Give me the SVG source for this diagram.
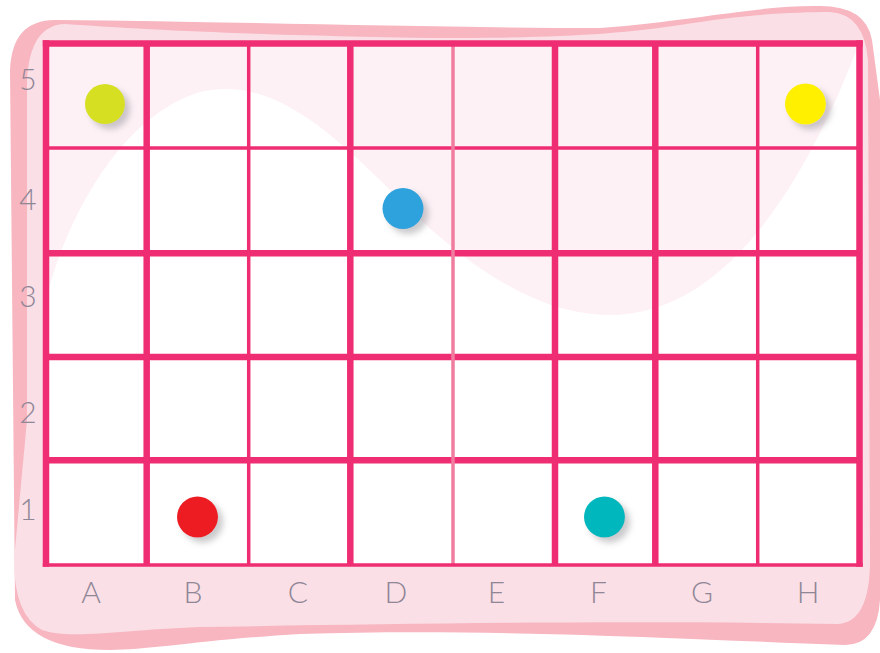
<svg xmlns="http://www.w3.org/2000/svg" width="880" height="653" viewBox="0 0 880 653">
  <style>
    .back { fill: #f7b6c0; }
    .front { fill: #fbdfe6; }
    .wave { fill: #fdf1f5; }
    .thick { stroke: #ef2d72; stroke-width: 6.5; fill: none; }
    .thin { stroke: #ef2d72; stroke-width: 3.5; fill: none; }
    .light { stroke: #f07c9f; stroke-width: 3.5; fill: none; }
    .lbl { font-family: "Lato", "Liberation Sans", Arial, sans-serif; font-weight: 300; font-size: 30px; fill: #8f8696; text-anchor: middle; }
  </style>
  <defs>
    <filter id="sh" x="-50%" y="-50%" width="200%" height="200%">
      <feDropShadow dx="5" dy="5" stdDeviation="3" flood-color="#8a8a90" flood-opacity="0.45"/>
    </filter>
  </defs>

  <!-- frame -->
  <g id="frame">
    <path class="back" d="M 10 70 Q 12 20 55 20 C 250 22 450 28 600 28 C 700 20 760 5 820 6 Q 866 6 872 40 L 880 100 L 880 600 Q 877 645 845 645 C 700 640 500 628 300 634 C 200 640 150 650 110 650 Q 25 650 15 600 Z"/>
    <path class="front" d="M 27 80 Q 30 25 65 24 C 150 30 250 35 440 38 C 560 38 620 34 680 25 C 740 15 790 12 830 12 Q 864 14 868 60 L 870 560 Q 870 622 838 624 C 600 620 400 624 200 627 C 120 630 70 640 42 630 Q 14 615 14 560 L 27 420 Z"/>
  </g>

  <!-- grid interior -->
  <g id="board">
    <rect x="46" y="43.5" width="813.5" height="521.5" fill="#ffffff"/>
    <path class="wave" d="M 46 43.5 L 46 300 C 60 240 110 120 200 92 C 270 75 330 130 400 200 C 470 270 540 315 610 315 C 705 315 790 225 859 43.5 Z"/>
  </g>

  <!-- grid lines -->
  <g id="grid">
    <line class="thin" x1="46" y1="148" x2="859.5" y2="148"/>
    <line class="thick" x1="46" y1="253.3" x2="859.5" y2="253.3"/>
    <line class="thick" x1="46" y1="357" x2="859.5" y2="357"/>
    <line class="thick" x1="46" y1="460.3" x2="859.5" y2="460.3"/>
    <line class="thick" x1="146.7" y1="43.5" x2="146.7" y2="565"/>
    <line class="thin" x1="248.7" y1="43.5" x2="248.7" y2="565"/>
    <line class="thick" x1="350.3" y1="43.5" x2="350.3" y2="565"/>
    <line class="light" x1="453" y1="43.5" x2="453" y2="565"/>
    <line class="thick" x1="555" y1="43.5" x2="555" y2="565"/>
    <line class="thick" x1="655.3" y1="43.5" x2="655.3" y2="565"/>
    <line class="thin" x1="757.7" y1="43.5" x2="757.7" y2="565"/>
    <line class="thin" x1="42.8" y1="565" x2="862.7" y2="565"/>
    <line class="thick" x1="42.8" y1="43.5" x2="862.7" y2="43.5"/>
    <line class="thick" x1="46" y1="40.3" x2="46" y2="566.7"/>
    <line class="thick" x1="859.5" y1="40.3" x2="859.5" y2="566.7"/>
  </g>

  <!-- dots -->
  <g id="dot-A5"><circle cx="105" cy="104" r="20" fill="#d6df23" filter="url(#sh)"/></g>
  <g id="dot-H5"><circle cx="805.5" cy="104" r="20.5" fill="#fff000" filter="url(#sh)"/></g>
  <g id="dot-D4"><circle cx="403" cy="208.5" r="20.5" fill="#2ea2dc" filter="url(#sh)"/></g>
  <g id="dot-B1"><circle cx="197.5" cy="517" r="20.5" fill="#ed1c24" filter="url(#sh)"/></g>
  <g id="dot-F1"><circle cx="604.5" cy="517" r="20.5" fill="#00b7bd" filter="url(#sh)"/></g>

  <!-- labels -->
  <g id="row-labels">
    <text class="lbl" x="28" y="90">5</text>
    <text class="lbl" x="28" y="210">4</text>
    <text class="lbl" x="28" y="307">3</text>
    <text class="lbl" x="28" y="423">2</text>
    <text class="lbl" x="28" y="520">1</text>
  </g>
  <g id="col-labels">
    <text class="lbl" x="91" y="603">A</text>
    <text class="lbl" x="193" y="603">B</text>
    <text class="lbl" x="298" y="603">C</text>
    <text class="lbl" x="396" y="603">D</text>
    <text class="lbl" x="496.5" y="603">E</text>
    <text class="lbl" x="598.5" y="603">F</text>
    <text class="lbl" x="702" y="603">G</text>
    <text class="lbl" x="808" y="603">H</text>
  </g>
</svg>
